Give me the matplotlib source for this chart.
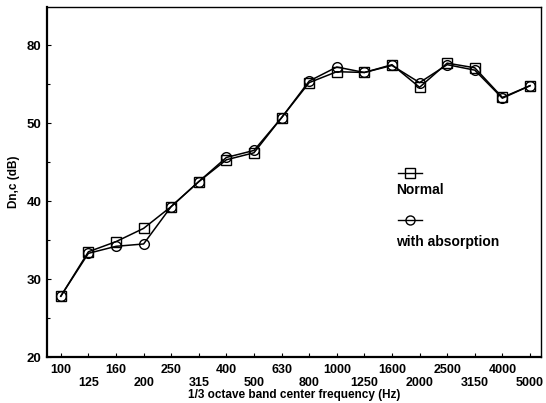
import matplotlib
matplotlib.use("Agg")
import matplotlib.pyplot as plt
from matplotlib.lines import Line2D

plt.rcParams['font.family'] = ['Liberation Sans', 'DejaVu Sans']
plt.rcParams['font.weight'] = 'bold'

freqs = ["100", "125", "160", "200", "250", "315", "400", "500", "630",
         "800", "1000", "1250", "1600", "2000", "2500", "3150", "4000", "5000"]
normal = [27.8, 33.5, 34.8, 36.5, 39.3, 42.5, 45.3, 46.2, 50.7,
          55.2, 56.6, 56.5, 57.5, 54.6, 57.7, 57.1, 53.3, 54.8]
absorption = [27.8, 33.3, 34.2, 34.5, 39.3, 42.5, 45.6, 46.5, 50.7,
              55.4, 57.2, 56.5, 57.4, 55.2, 57.5, 56.8, 53.2, 54.8]
ytick_vals = [20, 30, 40, 50, 60]
ytick_labels = ["20", "30", "40", "50", "80"]

fig = plt.figure(figsize=(5.46, 4.03), dpi=100)
ax = fig.add_axes([47/546, 1 - 357/403, 494/546, 350/403])

x = list(range(len(freqs)))
ax.plot(x, normal, color='black', lw=1.1, marker='s', ms=7,
        mfc='none', mec='black', mew=1.0)
ax.plot(x, absorption, color='black', lw=1.1, marker='o', ms=7,
        mfc='none', mec='black', mew=1.0)

ax.set_xlim(-0.5, 17.4)
ax.set_ylim(20, 64.9)
ax.set_xticks(x)
ax.set_xticklabels([f if i % 2 == 0 else "\n" + f for i, f in enumerate(freqs)],
                   fontsize=9, fontweight='bold', linespacing=1.1)
ax.set_yticks(ytick_vals)
ax.set_yticklabels(ytick_labels, fontsize=9.5, fontweight='bold')
ax.set_yticks([25, 35, 45, 55], minor=True)
ax.tick_params(direction='in', length=3, width=0.8, pad=4)
ax.tick_params(which='minor', direction='in', length=2, width=0.8)
ax.tick_params(axis='x', pad=5)

for side in ['left', 'bottom']:
    ax.spines[side].set_linewidth(1.6)
for side in ['top', 'right']:
    ax.spines[side].set_linewidth(1.0)

ax.set_xlabel("1/3 octave band center frequency (Hz)", fontsize=8.5,
              fontweight='bold', labelpad=0)
ax.set_ylabel("Dn,c (dB)", fontsize=8.5, fontweight='bold', labelpad=5)

# legend drawn as handle above label
leg = [("Normal", 's', 173, 190), ("with absorption", 'o', 220, 242)]
for label, mk, yh, yt in leg:
    yh_ax = (357 - yh) / 350
    yt_ax = (357 - yt) / 350
    ax.add_line(Line2D([(398 - 47) / 494, (422 - 47) / 494], [yh_ax, yh_ax],
                       transform=ax.transAxes, color='black', lw=1.0))
    ax.plot([(410 - 47) / 494], [yh_ax], transform=ax.transAxes, marker=mk,
            ms=6.5, mfc='none', mec='black', mew=1.0, color='black')
    ax.text((396 - 47) / 494, yt_ax, label, transform=ax.transAxes,
            fontsize=10, fontweight='bold', va='center', ha='left')

fig.savefig("out.png", dpi=100)
